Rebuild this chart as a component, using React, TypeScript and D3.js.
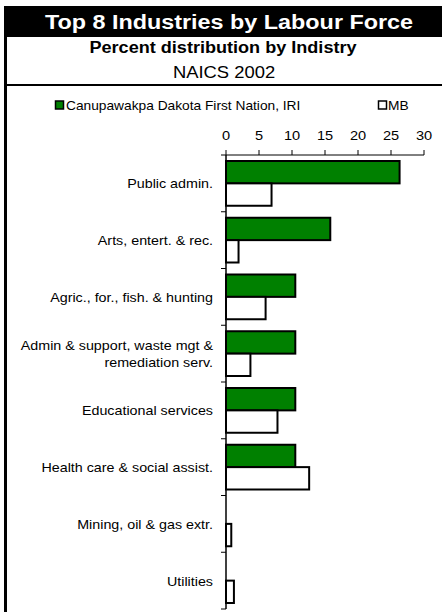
import React from "react";
import * as d3 from "d3";

const categories = [
  "Public admin.",
  "Arts, entert. & rec.",
  "Agric., for., fish. & hunting",
  "Admin & support, waste mgt &\nremediation serv.",
  "Educational services",
  "Health care & social assist.",
  "Mining, oil & gas extr.",
  "Utilities",
];
const firstNationValues = [26.3, 15.8, 10.5, 10.5, 10.5, 10.5, 0, 0];
const mbValues = [6.9, 1.9, 6.0, 3.7, 7.8, 12.6, 0.8, 1.2];
const seriesNames = ["Canupawakpa Dakota First Nation, IRI", "MB"];
const tickValues = [0, 5, 10, 15, 20, 25, 30];

const FONT = "'Liberation Sans', Arial, Helvetica, sans-serif";
const W = 442;
const H = 614;

type TProps = {
  x: number;
  y: number;
  sx?: number;
  size: number;
  anchor?: "start" | "middle" | "end";
  bold?: boolean;
  fill?: string;
  children: React.ReactNode;
};
function T({ x, y, sx = 1, size, anchor = "start", bold, fill = "#000", children }: TProps) {
  return (
    <text
      transform={`translate(${x},${y}) scale(${sx},1)`}
      textAnchor={anchor}
      fontSize={size}
      fontWeight={bold ? "bold" : "normal"}
      fill={fill}
    >
      {children}
    </text>
  );
}

export default function App() {
  const x = d3.scaleLinear().domain([0, 30]).range([226, 424]);
  const y = d3.scaleBand<string>().domain(categories).range([155, 609]).padding(0);
  const bw = y.bandwidth();
  const sub = d3.scaleBand<string>().domain(["fn", "mb"]).range([6, bw - 6]).padding(0);
  const sh = sub.bandwidth();
  const boundaries = categories.map((c) => y(c) as number).concat([609]);

  return (
    <svg width={W} height={H} style={{ position: "absolute", left: 0, top: 0 }} fontFamily={FONT}>
      <rect x={0} y={0} width={W} height={H} fill="#fff" />
      {/* title bar */}
      <rect x={4} y={6} width={438} height={31} fill="#000" />
      <T x={229} y={28.5} size={20.5} sx={1.14} anchor="middle" bold fill="#fff">
        Top 8 Industries by Labour Force
      </T>
      <rect x={4} y={6} width={3} height={606} fill="#000" />
      <T x={223} y={53} size={16} sx={1.13} anchor="middle" bold>
        Percent distribution by Indistry
      </T>
      <T x={224} y={78} size={16} sx={1.15} anchor="middle">
        NAICS 2002
      </T>
      <rect x={4} y={84} width={438} height={2} fill="#000" />

      {/* legend */}
      <rect x={55.5} y={101} width={8} height={8} fill="#008000" stroke="#000" strokeWidth={1.5} />
      <T x={66} y={109.5} size={12.5} sx={1.1}>{seriesNames[0]}</T>
      <rect x={378.5} y={101} width={8} height={8} fill="#fff" stroke="#000" strokeWidth={1.5} />
      <T x={388} y={109.5} size={12.5} sx={1.1}>{seriesNames[1]}</T>

      {/* x axis on top */}
      <line x1={x(0)} x2={x(30)} y1={155} y2={155} stroke="#000" strokeWidth={1} />
      {tickValues.map((t) => (
        <g key={t}>
          <line x1={x(t)} x2={x(t)} y1={150} y2={155} stroke="#000" strokeWidth={1} />
          <T x={x(t)} y={140} size={13.5} sx={1.08} anchor="middle">{t}</T>
        </g>
      ))}

      {/* y axis */}
      <line x1={x(0)} x2={x(0)} y1={155} y2={609} stroke="#000" strokeWidth={1.5} />
      {boundaries.map((b, i) => (
        <line key={i} x1={x(0) - 5} x2={x(0)} y1={b} y2={b} stroke="#000" strokeWidth={1} />
      ))}

      {categories.map((c, i) => {
        const y0 = y(c) as number;
        const lines = c.split("\n");
        const cy = y0 + bw / 2;
        return (
          <g key={c}>
            {lines.map((ln, j) => (
              <T
                key={j}
                x={213}
                y={cy + 5 + (j - (lines.length - 1) / 2) * 17}
                size={13}
                sx={1.1}
                anchor="end"
              >
                {ln}
              </T>
            ))}
            {firstNationValues[i] > 0 && (
              <rect
                x={x(0)}
                y={y0 + (sub("fn") as number)}
                width={x(firstNationValues[i]) - x(0)}
                height={sh}
                fill="#008000"
                stroke="#000"
                strokeWidth={2}
              />
            )}
            {mbValues[i] > 0 && (
              <rect
                x={x(0)}
                y={y0 + (sub("mb") as number)}
                width={x(mbValues[i]) - x(0)}
                height={sh}
                fill="#fff"
                stroke="#000"
                strokeWidth={2}
              />
            )}
          </g>
        );
      })}
    </svg>
  );
}
